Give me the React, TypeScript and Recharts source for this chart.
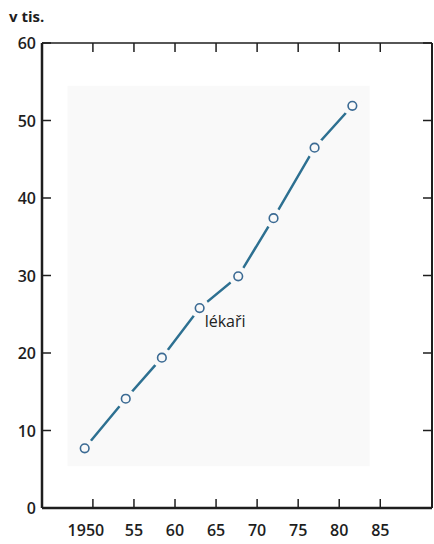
import React from "react";
import { LineChart, Line, XAxis, YAxis, ReferenceArea } from "recharts";

const years = [1949, 1954, 1958.4, 1963, 1967.7, 1972, 1977, 1981.6];
const doctors = [7.7, 14.1, 19.4, 25.8, 29.9, 37.4, 46.5, 51.9];
const xTicks = [1950, 1955, 1960, 1965, 1970, 1975, 1980, 1985];
const yTicks = [0, 10, 20, 30, 40, 50, 60];
const seriesLabel = "lékaři";
const labelIndex = 3;
const unitLabel = "v tis.";

const data = years.map((year, i) => ({ year, value: doctors[i] }));

const INK = "#1e1e1e";
const FONT = "'Open Sans', 'DejaVu Sans', sans-serif";
const TICK = 9;
const PAPER = "#f9f9f9";
const X_DOMAIN = [1943.8, 1991.3];
const Y_DOMAIN = [0, 60];

function LeftTick(props: any) {
  const { x, y, payload } = props;
  return (
    <g>
      <line x1={x + 6} y1={y} x2={x + 6 + TICK} y2={y} stroke={INK} strokeWidth={1.5} />
      <text x={x} y={y} dy={6} textAnchor="end" fontFamily={FONT} fontSize={16} fontWeight={600} fill={INK}>
        {payload.value}
      </text>
    </g>
  );
}

function BottomTick(props: any) {
  const { x, y, payload } = props;
  const v = payload.value as number;
  const text = v === 1950 ? "1950" : String(v % 100);
  return (
    <g>
      <line x1={x} y1={y - 14} x2={x} y2={y - 14 - TICK} stroke={INK} strokeWidth={1.5} />
      <text x={v === 1950 ? x - 7 : x} y={y} dy={14} textAnchor="middle" fontFamily={FONT} fontSize={16} fontWeight={600} fill={INK}>
        {text}
      </text>
    </g>
  );
}

function TopTick(props: any) {
  const { x, y } = props;
  return <line x1={x} y1={y} x2={x} y2={y + TICK} stroke={INK} strokeWidth={1.5} />;
}

function RightTick(props: any) {
  const { x, y } = props;
  return <line x1={x} y1={y} x2={x - TICK} y2={y} stroke={INK} strokeWidth={1.5} />;
}

// ring marker; the paper-coloured disc under it cuts the line short of each point
function RingDot(props: any) {
  const { cx, cy, index } = props;
  return (
    <g key={`dot-${index}`}>
      <circle cx={cx} cy={cy} r={10} fill={PAPER} />
      <circle cx={cx} cy={cy} r={4.3} fill="none" stroke="#3b6a93" strokeWidth={1.6} />
      {index === labelIndex && (
        <text x={cx + 5} y={cy + 19} fontFamily={FONT} fontSize={16} fontWeight={500} fill="#222">
          {seriesLabel}
        </text>
      )}
    </g>
  );
}

export default function App() {
  return (
    <div style={{ position: "absolute", left: 0, top: 0, width: 434, height: 544, background: "#fff" }}>
      <div style={{ position: "absolute", left: 9, top: 6, fontFamily: FONT, fontSize: 15, fontWeight: 700, color: INK }}>
        {unitLabel}
      </div>
      <LineChart width={434} height={544} data={data} margin={{ top: 42, right: 1, bottom: 0, left: 0 }}>
        <XAxis
          dataKey="year"
          type="number"
          domain={X_DOMAIN}
          ticks={xTicks}
          allowDataOverflow
          height={36}
          tickSize={0}
          tickMargin={14}
          tick={<BottomTick />}
          axisLine={{ stroke: INK, strokeWidth: 2.5 }}
        />
        <XAxis
          xAxisId="top"
          dataKey="year"
          orientation="top"
          type="number"
          domain={X_DOMAIN}
          ticks={xTicks}
          allowDataOverflow
          height={1}
          tickSize={0}
          tickMargin={0}
          tick={<TopTick />}
          axisLine={{ stroke: INK, strokeWidth: 1.5 }}
        />
        <YAxis
          type="number"
          domain={Y_DOMAIN}
          ticks={yTicks}
          width={42}
          tickSize={0}
          tickMargin={6}
          tick={<LeftTick />}
          axisLine={{ stroke: INK, strokeWidth: 2.5 }}
        />
        <YAxis
          yAxisId="right"
          orientation="right"
          type="number"
          domain={Y_DOMAIN}
          ticks={yTicks}
          allowDataOverflow
          width={1}
          tickSize={0}
          tickMargin={0}
          tick={<RightTick />}
          axisLine={{ stroke: INK, strokeWidth: 2 }}
        />
        <ReferenceArea x1={1946.9} x2={1983.7} y1={5.4} y2={54.5} fill={PAPER} fillOpacity={1} stroke="none" />
        <Line
          dataKey="value"
          type="linear"
          stroke="#2d7091"
          strokeWidth={2.5}
          dot={false}
          activeDot={false}
          isAnimationActive={false}
        />
        <Line
          xAxisId="top"
          yAxisId="right"
          dataKey="value"
          type="linear"
          stroke="none"
          dot={<RingDot />}
          activeDot={false}
          isAnimationActive={false}
        />
      </LineChart>
    </div>
  );
}
